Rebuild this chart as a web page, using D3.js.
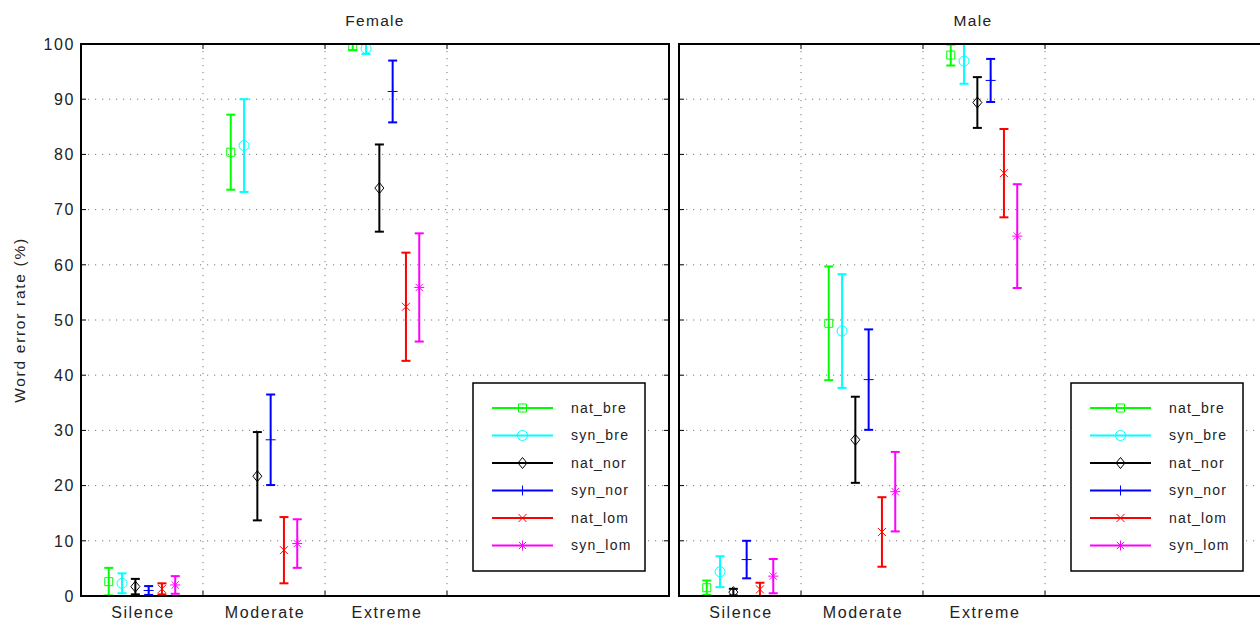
<!DOCTYPE html>
<html>
<head>
<meta charset="utf-8">
<script src="https://cdn.jsdelivr.net/npm/d3@7.9.0/dist/d3.min.js"></script>
<style>
  body { margin: 0; background: #fff; }
  svg { display: block; font-family: 'Liberation Sans', Arial, sans-serif; }
</style>
</head>
<body>
<svg id="chart"></svg>
<script>
// Data (word error rate, %)
const conditions = ['Silence', 'Moderate', 'Extreme'];
const seriesNames = ['nat_bre', 'syn_bre', 'nat_nor', 'syn_nor', 'nat_lom', 'syn_lom'];
const seriesColors = ['#00ff00', '#00ffff', '#000000', '#0000ff', '#ff0000', '#ff00ff'];
const seriesMarkers = ['square', 'circle', 'diamond', 'plus', 'cross', 'star'];
const yTicks = [0, 10, 20, 30, 40, 50, 60, 70, 80, 90, 100];

// one row per series, one value per condition
const femaleMean = [
  [2.6, 80.4, 99.5],
  [2.3, 81.6, 99.2],
  [1.7, 21.7, 73.9],
  [1.0, 28.3, 91.4],
  [1.3, 8.3, 52.4],
  [2.0, 9.5, 55.9],
];
const femaleErr = [
  [2.5, 6.8, 0.6],
  [1.8, 8.4, 1.0],
  [1.4, 8.0, 7.9],
  [0.8, 8.2, 5.6],
  [1.0, 6.0, 9.8],
  [1.6, 4.4, 9.8],
];
const maleMean = [
  [1.5, 49.4, 98.0],
  [4.4, 48.0, 96.9],
  [0.7, 28.3, 89.4],
  [6.6, 39.2, 93.4],
  [1.2, 11.6, 76.6],
  [3.6, 18.9, 65.2],
];
const maleErr = [
  [1.3, 10.3, 1.9],
  [2.8, 10.3, 4.1],
  [0.6, 7.8, 4.6],
  [3.4, 9.1, 3.9],
  [1.2, 6.3, 8.0],
  [3.1, 7.2, 9.4],
];

const width = 1260;
const height = 620;
const marginTop = 44;
const marginBottom = 24;
const panelWidth = 588;
const unitPx = 122; // pixels per condition slot
const groupStep = 0.109; // spacing between series inside a group

const panels = [
  { title: 'Female', left: 81, mean: femaleMean, err: femaleErr, yLabels: true },
  { title: 'Male', left: 679, mean: maleMean, err: maleErr, yLabels: false },
];

const svg = d3.select('#chart')
  .attr('width', width)
  .attr('height', height)
  .attr('viewBox', [0, 0, width, height]);

svg.append('rect').attr('width', width).attr('height', height).attr('fill', '#fff');

const y = d3.scaleLinear().domain([0, 100]).range([height - marginBottom, marginTop]);

function markerPath(type) {
  const p = d3.path();
  if (type === 'square') {
    p.rect(-4, -4, 8, 8);
  } else if (type === 'circle') {
    p.arc(0, 0, 5, 0, 2 * Math.PI);
  } else if (type === 'diamond') {
    p.moveTo(0, -5.5); p.lineTo(4.5, 0); p.lineTo(0, 5.5); p.lineTo(-4.5, 0); p.closePath();
  } else if (type === 'plus') {
    p.moveTo(-5, 0); p.lineTo(5, 0); p.moveTo(0, -5); p.lineTo(0, 5);
  } else if (type === 'cross') {
    p.moveTo(-4, -4); p.lineTo(4, 4); p.moveTo(-4, 4); p.lineTo(4, -4);
  } else if (type === 'star') {
    p.moveTo(-5, 0); p.lineTo(5, 0); p.moveTo(0, -5); p.lineTo(0, 5);
    p.moveTo(-3.6, -3.6); p.lineTo(3.6, 3.6); p.moveTo(-3.6, 3.6); p.lineTo(3.6, -3.6);
  }
  return p.toString();
}

panels.forEach((panel, pi) => {
  const x = d3.scaleLinear()
    .domain([0.5, 0.5 + panelWidth / unitPx])
    .range([panel.left, panel.left + panelWidth]);
  const [x0, x1] = x.range();
  const [yb, yt] = y.range();

  const g = svg.append('g').attr('class', 'panel');

  // clip region for the plotted marks
  const clipId = 'clip' + pi;
  svg.append('clipPath').attr('id', clipId)
    .append('rect')
    .attr('x', x0).attr('y', yt - 1)
    .attr('width', panelWidth).attr('height', yb - yt + 2);

  // grid
  const gridX = [1.5, 2.5, 3.5];
  g.append('g').selectAll('line')
    .data(yTicks.filter((d) => d > 0 && d < 100))
    .join('line')
    .attr('x1', x0).attr('x2', x1)
    .attr('y1', (d) => y(d)).attr('y2', (d) => y(d))
    .attr('stroke', '#7a7a7a').attr('stroke-width', 1)
    .attr('stroke-dasharray', '1.2,5.8');
  g.append('g').selectAll('line')
    .data(gridX)
    .join('line')
    .attr('x1', (d) => x(d)).attr('x2', (d) => x(d))
    .attr('y1', yt).attr('y2', yb)
    .attr('stroke', '#7a7a7a').attr('stroke-width', 1)
    .attr('stroke-dasharray', '1.2,5.8');

  // tick marks (inside, both sides)
  const ticks = g.append('g').attr('stroke', '#000').attr('stroke-width', 1);
  yTicks.forEach((t) => {
    ticks.append('line').attr('x1', x0).attr('x2', x0 + 5).attr('y1', y(t)).attr('y2', y(t));
    ticks.append('line').attr('x1', x1).attr('x2', x1 - 5).attr('y1', y(t)).attr('y2', y(t));
  });
  gridX.forEach((t) => {
    ticks.append('line').attr('x1', x(t)).attr('x2', x(t)).attr('y1', yb).attr('y2', yb - 5);
    ticks.append('line').attr('x1', x(t)).attr('x2', x(t)).attr('y1', yt).attr('y2', yt + 5);
  });

  // y tick labels (left panel only)
  if (panel.yLabels) {
    g.append('g').selectAll('text')
      .data(yTicks)
      .join('text')
      .attr('x', x0 - 6)
      .attr('y', (d) => y(d))
      .attr('dy', '0.36em')
      .attr('text-anchor', 'end')
      .attr('font-size', 16)
      .attr('letter-spacing', 1.6)
      .attr('fill', '#222')
      .text((d) => d);
  }

  // x category labels
  g.append('g').selectAll('text')
    .data(conditions)
    .join('text')
    .attr('x', (d, i) => x(i + 1) + 1)
    .attr('y', 618)
    .attr('text-anchor', 'middle')
    .attr('font-size', 16)
    .attr('letter-spacing', 1.6)
    .attr('fill', '#222')
    .text((d) => d);

  // title
  g.append('text')
    .attr('x', (x0 + x1) / 2)
    .attr('y', 26)
    .attr('text-anchor', 'middle')
    .attr('font-size', 15.5)
    .attr('letter-spacing', 1.3)
    .attr('fill', '#222')
    .text(panel.title);

  // error bars
  const marks = g.append('g').attr('clip-path', `url(#${clipId})`);
  seriesNames.forEach((name, si) => {
    const color = seriesColors[si];
    const sg = marks.append('g').attr('class', name);
    conditions.forEach((c, ci) => {
      const cx = x(ci + 1 + (si - 2.5) * groupStep);
      const m = panel.mean[si][ci];
      const e = panel.err[si][ci];
      const lo = y(m - e);
      const hi = y(m + e);
      sg.append('line')
        .attr('x1', cx).attr('x2', cx).attr('y1', lo).attr('y2', hi)
        .attr('stroke', color).attr('stroke-width', 2);
      [lo, hi].forEach((yy) => {
        sg.append('line')
          .attr('x1', cx - 4.5).attr('x2', cx + 4.5).attr('y1', yy).attr('y2', yy)
          .attr('stroke', color).attr('stroke-width', 2);
      });
      sg.append('path')
        .attr('d', markerPath(seriesMarkers[si]))
        .attr('transform', `translate(${cx},${y(m)})`)
        .attr('fill', 'none')
        .attr('stroke', color)
        .attr('stroke-width', 1);
    });
  });

  // frame
  g.append('rect')
    .attr('x', x0).attr('y', yt)
    .attr('width', panelWidth).attr('height', yb - yt)
    .attr('fill', 'none').attr('stroke', '#000').attr('stroke-width', 2);

  // legend
  const lgX = x0 + 392;
  const lgY = 383;
  const lg = g.append('g').attr('class', 'legend');
  lg.append('rect')
    .attr('x', lgX).attr('y', lgY)
    .attr('width', 172).attr('height', 188)
    .attr('fill', '#fff').attr('stroke', '#000').attr('stroke-width', 1.5);
  seriesNames.forEach((name, si) => {
    const ry = lgY + 25 + si * 27.5;
    lg.append('line')
      .attr('x1', lgX + 19).attr('x2', lgX + 80)
      .attr('y1', ry).attr('y2', ry)
      .attr('stroke', seriesColors[si]).attr('stroke-width', 2);
    lg.append('path')
      .attr('d', markerPath(seriesMarkers[si]))
      .attr('transform', `translate(${lgX + 49.5},${ry})`)
      .attr('fill', 'none')
      .attr('stroke', seriesColors[si])
      .attr('stroke-width', 1);
    lg.append('text')
      .attr('x', lgX + 98)
      .attr('y', ry)
      .attr('dy', '0.35em')
      .attr('font-size', 14)
      .attr('letter-spacing', 1.2)
      .attr('fill', '#222')
      .text(name);
  });
});

// y axis label
svg.append('text')
  .attr('transform', `translate(25,${(y(0) + y(100)) / 2}) rotate(-90)`)
  .attr('text-anchor', 'middle')
  .attr('font-size', 15.5)
  .attr('letter-spacing', 1.7)
  .attr('fill', '#222')
  .text('Word error rate (%)');
</script>
</body>
</html>
